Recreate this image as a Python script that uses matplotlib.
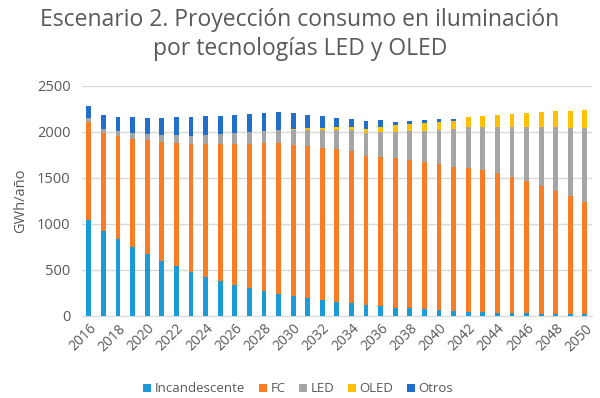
import numpy as np
import matplotlib
matplotlib.use("Agg")
import matplotlib.pyplot as plt

plt.rcParams['font.family'] = ['Open Sans', 'DejaVu Sans']

years = list(range(2016, 2051))
tick_years = list(range(2016, 2051, 2))

incandescente = [1043, 924, 830, 743, 670, 594, 536, 475, 420, 380, 337, 304, 272, 239, 217,
                 188, 167, 152, 134, 116, 101, 87, 80, 72, 62, 54, 43, 40, 33, 29, 25, 22, 18, 18, 14]
fc = [1066, 1060, 1125, 1179, 1238, 1295, 1339, 1394, 1446, 1482, 1525, 1562, 1601, 1634, 1642,
      1652, 1659, 1659, 1652, 1623, 1627, 1627, 1612, 1598, 1586, 1566, 1566, 1543, 1514, 1475,
      1435, 1391, 1341, 1279, 1218]
led = [36, 49, 54, 67, 65, 76, 87, 86, 98, 113, 122, 129, 136, 147, 161, 180, 194, 211, 232, 245,
       272, 286, 313, 341, 370, 405, 442, 468, 507, 550, 594, 638, 692, 746, 811]
oled = [0, 0, 0, 0, 0, 0, 0, 0, 0, 0, 0, 0, 0, 0, 7, 16, 20, 29, 33, 49, 51, 75, 82, 87, 91, 93,
        105, 119, 127, 138, 145, 159, 170, 185, 196]
otros = [134, 146, 152, 167, 181, 185, 196, 206, 206, 199, 196, 195, 196, 196, 173, 149, 134, 94,
         87, 83, 76, 30, 25, 27, 25, 23, 0, 0, 0, 0, 0, 0, 0, 0, 0]

series = [
    ("Incandescente", incandescente, "#1A9AD6"),
    ("FC", fc, "#FA7D25"),
    ("LED", led, "#A5A5A5"),
    ("OLED", oled, "#FFC000"),
    ("Otros", otros, "#1F6FCB"),
]

text_col = "#595959"

fig = plt.figure(figsize=(6, 3.98), dpi=100)
ax = fig.add_axes([0.136, 0.2068, 0.851, 0.5779])

bottom = np.zeros(len(years))
for name, vals, col in series:
    ax.bar(years, vals, width=0.33, bottom=bottom, color=col, label=name, zorder=3)
    bottom += np.array(vals)

ax.set_xlim(2015.5, 2050.5)
ax.set_ylim(0, 2500)
ax.set_yticks(range(0, 2501, 500))
ax.set_xticks(tick_years)
ax.set_xticklabels([str(y) for y in tick_years], rotation=45, ha="right",
                   rotation_mode="anchor", fontsize=10, color=text_col)
ax.tick_params(axis="y", labelsize=10.5, labelcolor=text_col, length=0, pad=8)
ax.tick_params(axis="x", length=0, pad=4)
ax.grid(axis="y", color="#D9D9D9", linewidth=1, zorder=0)
for s in ["top", "right", "left"]:
    ax.spines[s].set_visible(False)
ax.spines["bottom"].set_color("#D9D9D9")
ax.set_ylabel("GWh/año", fontsize=10.5, color=text_col, labelpad=6)

fig.text(0.5, 0.95, "Escenario 2. Proyección consumo en iluminación",
         ha="center", va="center", fontsize=16.5, color=text_col)
fig.text(0.5, 0.878, "por tecnologías LED y OLED",
         ha="center", va="center", fontsize=16.5, color=text_col)

fig.legend(loc="center", bbox_to_anchor=(0.497, 0.023), ncol=5, frameon=False,
           fontsize=9.5, handlelength=0.6, handleheight=0.6, handletextpad=0.3,
           columnspacing=1.0, labelcolor=text_col)

fig.savefig("out.png", dpi=100)
